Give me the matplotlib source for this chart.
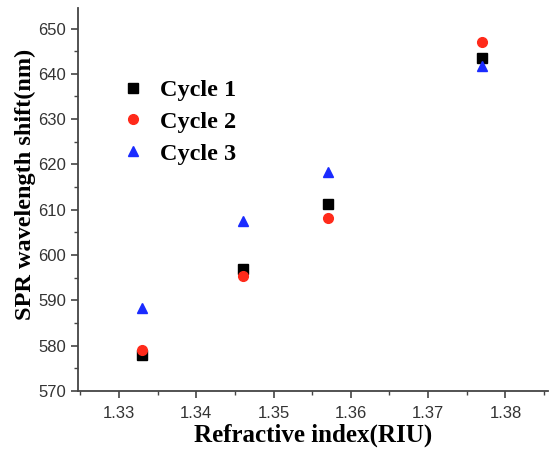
import numpy as np
import matplotlib.pyplot as plt
from matplotlib.ticker import MultipleLocator

# refractive index of the test solutions and SPR peak for each cycle
ri = [1.333, 1.346, 1.357, 1.377]
cycle1 = [578.0, 597.0, 611.3, 643.5]
cycle2 = [579.0, 595.3, 608.2, 647.0]
cycle3 = [588.3, 607.5, 618.3, 641.8]

fig = plt.figure(figsize=(5.49, 4.54), dpi=100)
ax = fig.add_axes([0.142, 0.139, 0.856, 0.843])

ax.plot(ri, cycle1, 's', color='black', ms=6.5, label='Cycle 1')
ax.plot(ri, cycle2, 'o', color='#ff2a1a', ms=7, label='Cycle 2')
ax.plot(ri, cycle3, '^', color='#1a2bff', ms=7.5, label='Cycle 3')

ax.set_xlim(1.3247, 1.3855)
ax.set_ylim(570, 654.5)
ax.xaxis.set_major_locator(MultipleLocator(0.01))
ax.xaxis.set_minor_locator(MultipleLocator(0.005))
ax.yaxis.set_major_locator(MultipleLocator(10))
ax.yaxis.set_minor_locator(MultipleLocator(5))
ax.set_xticklabels([], minor=True)

for s in ['top', 'right']:
    ax.spines[s].set_visible(False)
for s in ['left', 'bottom']:
    ax.spines[s].set_color('#444444')
    ax.spines[s].set_linewidth(1.3)

ax.tick_params(which='major', direction='out', length=5, width=1.2, color='#444444',
               labelsize=12, labelcolor='#333333')
ax.tick_params(which='minor', direction='out', length=3, width=1.0, color='#444444')
for lab in ax.get_xticklabels() + ax.get_yticklabels():
    lab.set_family('Liberation Sans')
ax.tick_params(axis='x', pad=6)

ax.set_xlabel('Refractive index(RIU)', family='Liberation Serif', fontweight='bold',
              fontsize=18, labelpad=2)
ax.set_ylabel('SPR wavelength shift(nm)', family='Liberation Serif', fontweight='bold',
              fontsize=17.5, labelpad=2)
ax.yaxis.set_label_coords(-0.09, 0.54)

ax.legend(loc='upper left', bbox_to_anchor=(0.04, 0.872), frameon=False,
          prop={'family': 'Liberation Serif', 'weight': 'bold', 'size': 17.5},
          handletextpad=0.5, labelspacing=0.4, handlelength=1.2)

fig.savefig('out.png', dpi=100)
